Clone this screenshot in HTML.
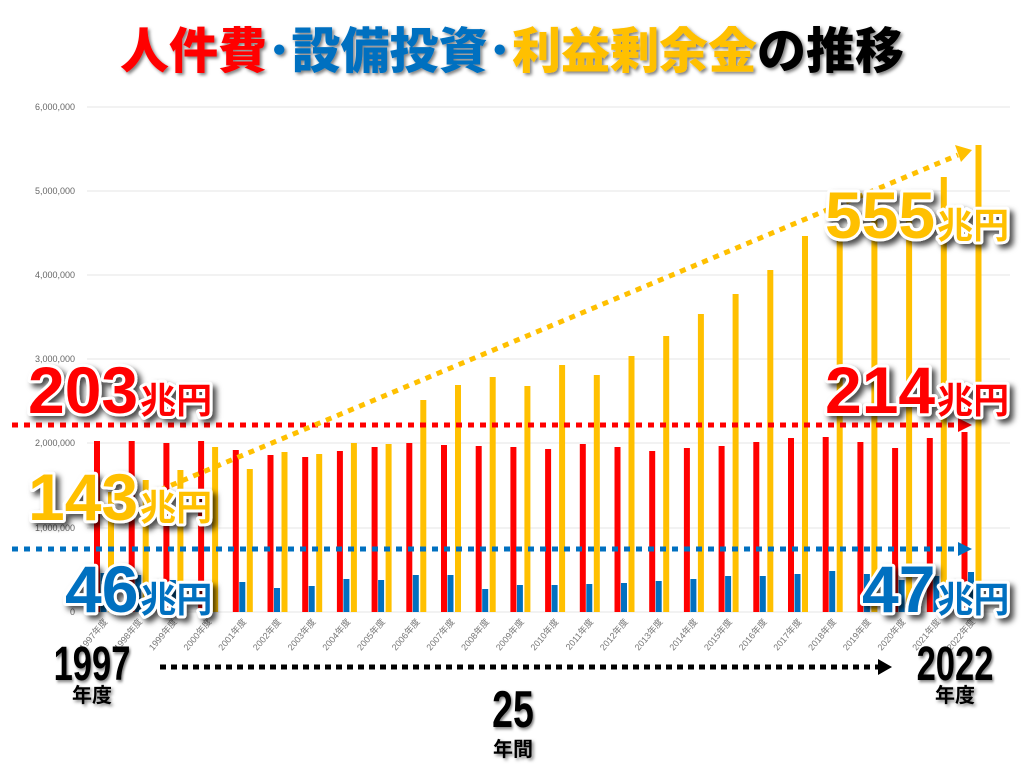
<!DOCTYPE html>
<html><head><meta charset="utf-8"><style>
html,body{margin:0;padding:0;background:#fff;}
svg{display:block;}
.big{font-family:"Liberation Sans","Noto Sans CJK JP",sans-serif;font-weight:bold;paint-order:stroke;stroke:#fff;stroke-width:6;stroke-linejoin:round;filter:url(#sh);}
.yl{font-family:"Liberation Sans",sans-serif;font-size:9px;fill:#666;}
.xl{font-family:"Liberation Sans","Noto Sans CJK JP",sans-serif;font-size:9px;fill:#777;}
.blk{font-family:"Liberation Sans","Noto Sans CJK JP",sans-serif;font-weight:bold;fill:#000;filter:url(#sh2);}
</style></head><body>
<svg id="s" width="1024" height="768" viewBox="0 0 1024 768" xmlns="http://www.w3.org/2000/svg">
<defs>
<filter id="sh" x="-20%" y="-20%" width="150%" height="150%"><feDropShadow dx="4" dy="4" stdDeviation="3" flood-color="#000" flood-opacity="0.7"/></filter>
<filter id="sh2" x="-20%" y="-20%" width="150%" height="150%"><feDropShadow dx="2" dy="2" stdDeviation="1.5" flood-color="#000" flood-opacity="0.5"/></filter>
</defs>
<g id="grid" stroke="#e6e6e6" stroke-width="1">
<line x1="87" y1="107" x2="1010" y2="107"/><line x1="87" y1="191" x2="1010" y2="191"/>
<line x1="87" y1="275" x2="1010" y2="275"/><line x1="87" y1="359" x2="1010" y2="359"/>
<line x1="87" y1="443" x2="1010" y2="443"/><line x1="87" y1="528" x2="1010" y2="528"/>
<line x1="87" y1="612" x2="1010" y2="612"/>
</g>
<g text-anchor="end">
<text class="yl" x="75" y="110">6,000,000</text><text class="yl" x="75" y="194">5,000,000</text>
<text class="yl" x="75" y="278">4,000,000</text><text class="yl" x="75" y="362">3,000,000</text>
<text class="yl" x="75" y="446">2,000,000</text><text class="yl" x="75" y="531">1,000,000</text>
<text class="yl" x="75" y="615">0</text>
</g>
<g id="bars"></g>
<g id="xl"></g>

<line x1="12" y1="425" x2="958" y2="425" stroke="#ff0000" stroke-width="5" stroke-dasharray="6,6"/>
<polygon points="958,418 972,425 958,432" fill="#ff0000"/>
<line x1="12" y1="549" x2="958" y2="549" stroke="#0070c0" stroke-width="5" stroke-dasharray="6,6"/>
<polygon points="958,542 972,549 958,556" fill="#0070c0"/>
<line x1="160" y1="490" x2="958" y2="155" stroke="#ffc000" stroke-width="5" stroke-dasharray="6,6"/>
<polygon points="955,145 972,150 961,162" fill="#ffc000"/>
<line x1="160" y1="667" x2="878" y2="667" stroke="#000" stroke-width="5" stroke-dasharray="6,5"/>
<polygon points="878,659 892,667 878,675" fill="#000"/>

<text x="512" y="68" text-anchor="middle" font-family="'Noto Sans CJK JP',sans-serif" font-weight="900" font-size="49" filter="url(#sh2)"><tspan fill="#ff0000">人件費</tspan><tspan fill="#0070c0">･設備投資･</tspan><tspan fill="#ffc000">利益剰余金</tspan><tspan fill="#000">の推移</tspan></text>

<text class="big" x="28" y="413" font-size="66" fill="#ff0000">203<tspan font-size="36" dx="2">兆円</tspan></text>
<text class="big" x="28" y="520" font-size="66" fill="#ffc000">143<tspan font-size="36" dx="2">兆円</tspan></text>
<text class="big" x="65" y="612" font-size="66" fill="#0070c0">46<tspan font-size="36" dx="2">兆円</tspan></text>
<text class="big" x="825" y="238" font-size="66" fill="#ffc000">555<tspan font-size="36" dx="2">兆円</tspan></text>
<text class="big" x="825" y="413" font-size="66" fill="#ff0000">214<tspan font-size="36" dx="2">兆円</tspan></text>
<text class="big" x="862" y="612" font-size="66" fill="#0070c0">47<tspan font-size="36" dx="2">兆円</tspan></text>

<g transform="translate(92,680) scale(0.72,1)"><text class="blk" x="0" y="0" font-size="48" text-anchor="middle">1997</text></g>
<text class="blk" x="92" y="702" font-size="20" text-anchor="middle">年度</text>
<g transform="translate(955,680) scale(0.72,1)"><text class="blk" x="0" y="0" font-size="48" text-anchor="middle">2022</text></g>
<text class="blk" x="955" y="702" font-size="20" text-anchor="middle">年度</text>
<g transform="translate(513,727) scale(0.72,1)"><text class="blk" x="0" y="0" font-size="52" text-anchor="middle">25</text></g>
<text class="blk" x="513" y="756" font-size="20" text-anchor="middle">年間</text>
</svg>
<script>
var red=[441,441,443,441,450,455,457,451,447,443,445,446,447,449,444,447,451,448,446,442,438,437,442,448,438,432];
var blu=[573,575,580,582,582,588,586,579,580,575,575,589,585,585,584,583,581,579,576,576,574,571,574,580,576,572];
var yel=[492,480,470,447,469,452,454,443,444,400,385,377,386,365,375,356,336,314,294,270,236,228,215,205,177,145];
var ns="http://www.w3.org/2000/svg",b=document.getElementById("bars"),xl=document.getElementById("xl");
function r(x,y,c){var e=document.createElementNS(ns,"rect");e.setAttribute("x",x);e.setAttribute("y",y);e.setAttribute("width",6);e.setAttribute("height",612-y);e.setAttribute("fill",c);b.appendChild(e);}
for(var i=0;i<26;i++){var x=94+34.7*i;r(x,red[i],"#ff0000");r(x+6.5,blu[i],"#0070c0");r(x+14,yel[i],"#ffc000");
var t=document.createElementNS(ns,"text");t.setAttribute("class","xl");t.setAttribute("text-anchor","end");
t.setAttribute("transform","translate("+(x+14)+",622) rotate(-50)");t.textContent=(1997+i)+"年度";xl.appendChild(t);}
</script>
</body></html>
